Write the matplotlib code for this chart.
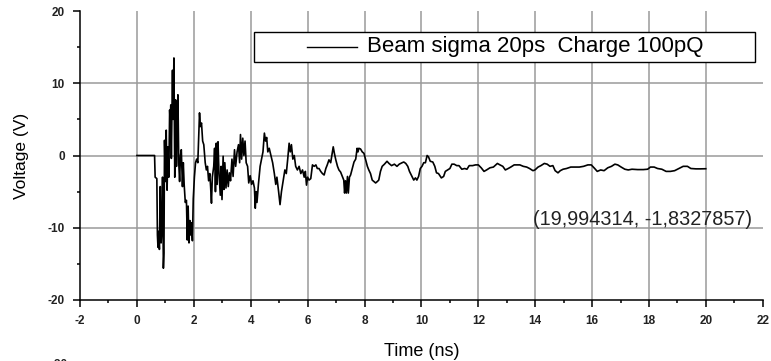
import matplotlib
matplotlib.use("Agg")
import matplotlib.pyplot as plt
from matplotlib.patches import Rectangle
from matplotlib.ticker import MultipleLocator

plt.rcParams['font.family'] = ['Liberation Sans', 'DejaVu Sans']
plt.rcParams['axes.unicode_minus'] = False

# waveform (time in ns, voltage in V)
time_ns = [
    0.00, 0.62, 0.64, 0.70, 0.72, 0.74, 0.76, 0.79, 0.82, 0.85, 0.88, 0.90,
    0.93, 0.95, 0.97, 1.00, 1.03, 1.06, 1.09, 1.12, 1.15, 1.17, 1.19, 1.21,
    1.25, 1.27, 1.30, 1.33, 1.36, 1.39, 1.41, 1.44, 1.47, 1.50, 1.53, 1.56,
    1.60, 1.63, 1.66, 1.70, 1.74, 1.77, 1.80, 1.83, 1.86, 1.89, 1.92, 1.95,
    1.98, 2.02, 2.06, 2.10, 2.14, 2.17, 2.20, 2.23, 2.27, 2.31, 2.35, 2.40,
    2.44, 2.48, 2.52, 2.56, 2.59, 2.62, 2.65, 2.70,
    2.73, 2.76, 2.79, 2.82, 2.85, 2.88, 2.93, 2.96, 2.99, 3.03, 3.06, 3.09,
    3.13, 3.17, 3.21, 3.25, 3.29, 3.34, 3.38, 3.43, 3.47, 3.52, 3.57, 3.61,
    3.64, 3.68, 3.72, 3.76, 3.80, 3.84, 3.89, 3.93, 3.98, 4.03, 4.08, 4.13,
    4.16, 4.19, 4.22, 4.27, 4.33, 4.38, 4.43, 4.48, 4.52, 4.56, 4.60, 4.65,
    4.71, 4.77, 4.83, 4.88, 4.92, 4.98, 5.03, 5.08, 5.14, 5.20, 5.25, 5.30,
    5.35, 5.39, 5.43, 5.48, 5.53, 5.58, 5.64,
    5.70, 5.76, 5.82, 5.88, 5.92, 5.96, 6.00, 6.05, 6.11, 6.17, 6.23, 6.29,
    6.34, 6.40, 6.46, 6.52, 6.58, 6.64, 6.69, 6.75, 6.81, 6.85, 6.90, 6.94,
    6.99, 7.05, 7.10, 7.16, 7.22, 7.27, 7.30, 7.33, 7.36, 7.40, 7.43, 7.47,
    7.51, 7.57, 7.63, 7.69, 7.74, 7.77, 7.80, 7.86, 7.92, 7.98, 8.04, 8.10,
    8.15, 8.21, 8.27, 8.33, 8.39, 8.45, 8.50, 8.56, 8.62, 8.70, 8.79, 8.86,
    8.95, 9.05, 9.14, 9.22, 9.32,
    9.38, 9.45, 9.52, 9.58, 9.67, 9.73, 9.79, 9.84, 9.90, 9.96, 10.02, 10.08,
    10.14, 10.20, 10.25, 10.31, 10.40, 10.47, 10.53,
    10.60, 10.70, 10.78, 10.84, 10.92, 11.00, 11.07, 11.15, 11.24, 11.32,
    11.42, 11.52, 11.60, 11.68, 11.80, 11.90, 12.00, 12.10, 12.20, 12.29,
    12.41, 12.53, 12.67, 12.76, 12.86, 12.95, 13.05, 13.14, 13.26, 13.35,
    13.46, 13.58, 13.70, 13.80, 13.92, 13.99, 14.10, 14.20, 14.32, 14.42,
    14.52, 14.62,
    14.70, 14.80, 14.88, 14.98, 15.10, 15.25, 15.40, 15.55, 15.70, 15.85,
    15.97, 16.09, 16.18, 16.30, 16.42, 16.55, 16.68, 16.80, 16.90, 17.02,
    17.15, 17.27, 17.40, 17.60, 17.80, 17.95, 18.05, 18.18, 18.30, 18.45,
    18.60, 18.75, 18.90, 19.05, 19.20, 19.35, 19.47, 19.65, 19.80, 19.994,
]
voltage_v = [
    0.0, 0.0, -3.0, -3.2, -11.0, -12.7, -10.5, -13.0, -4.3, -12.1, -9.5, -3.0,
    -15.6, -13.5, 2.1, -3.6, 3.5, -4.8, 1.2, -3.0, 6.3, 4.5, 7.0, -0.4,
    11.8, 5.0, 13.5, -3.0, 7.7, -1.5, 3.0, 8.4, -1.0, -3.6, 0.0, 0.8,
    -4.3, -1.0, -4.0, -6.5, -6.2, -11.7, -7.0, -12.1, -9.0, -11.0, -9.3, -11.8,
    -6.0, -3.0, -1.0, -0.5, -1.0, 2.5, 5.9, 4.0, 4.5, 2.0, 1.5, -1.0,
    -2.0, -1.5, -3.5, -2.5, -4.3, -6.6, -3.0, -1.5,
    1.0, -5.0, 1.7, -4.0, 1.9, -2.0, -5.5, -1.5, -6.1, -0.1, -4.7, -1.0,
    -4.5, -2.0, -4.3, -2.4, -3.5, -0.5, -2.9, 0.8, -1.5, 0.5, 1.5, -1.0,
    2.9, -0.5, 2.4, 0.0, 2.0, -1.0, -1.5, -3.8, -2.8, -4.0, -3.5, -4.5,
    -7.3, -5.0, -6.5, -4.0, -1.5, -0.5, 0.5, 3.1, 2.0, 2.5, 0.5, 1.0,
    0.0, -1.0, -2.5, -4.0, -3.0, -5.0, -6.8, -5.0, -3.5, -2.0, -2.5, -0.5,
    1.7, 0.5, 1.5, -0.5, 0.0, -1.5, -2.0,
    -1.5, -2.5, -2.0, -3.0, -2.2, -4.1, -3.0, -3.4, -3.2, -1.3, -1.5, -1.3,
    -1.8, -1.8, -2.2, -2.5, -2.7, -1.8, -1.3, -0.6, -1.0, 0.0, 1.2, 0.3,
    -0.6, -1.5, -2.0, -2.3, -2.9, -3.4, -5.2, -3.5, -5.2, -2.9, -5.2, -3.0,
    -2.7, -1.8, -0.9, -0.5, 1.0, 0.5, 1.0, 0.9, 0.5, 0.3, -0.6, -1.5,
    -2.0, -2.5, -3.4, -3.6, -3.8, -3.6, -3.4, -2.2, -1.5, -1.2, -0.8, -1.1,
    -1.4, -1.2, -1.5, -1.2, -1.0,
    -0.9, -1.1, -1.5, -2.2, -2.9, -3.4, -3.1, -3.4, -2.9, -1.8, -1.5, -1.0,
    -1.0, 0.0, -0.2, -0.8, -0.9, -1.5, -2.4,
    -2.5, -3.1, -2.9, -2.2, -2.0, -1.8, -1.2, -1.2, -1.4, -1.4,
    -1.9, -1.8, -1.9, -1.4, -1.4, -1.3, -1.3, -1.7, -2.2, -2.0,
    -1.7, -1.6, -1.1, -1.3, -1.5, -2.0, -1.8, -1.6, -1.3, -1.3,
    -1.3, -1.5, -1.6, -1.8, -2.1, -2.0, -1.6, -1.4, -1.1, -1.2,
    -1.5, -1.4,
    -2.1, -2.4, -2.1, -1.9, -1.8, -1.6, -1.6, -1.6, -1.5, -1.3,
    -1.3, -1.8, -2.2, -2.0, -2.1, -1.7, -1.5, -1.2, -1.3, -1.6,
    -1.9, -2.0, -1.9, -1.95, -1.95, -1.9, -1.6, -1.6, -1.8, -1.9,
    -2.2, -2.2, -2.1, -1.8, -1.5, -1.5, -1.8, -1.85, -1.85, -1.8327857,
]

series_label = "Beam sigma 20ps  Charge 100pQ"
cursor_text = "(19,994314, -1,8327857)"

fig = plt.figure(figsize=(7.71, 3.61), dpi=100)
ax = fig.add_axes([0.1038, 0.169, 0.8856, 0.8005])

ax.plot(time_ns, voltage_v, color="black", lw=1.2, zorder=3)

ax.set_xlim(-2, 22)
ax.set_ylim(-20, 20)
ax.xaxis.set_major_locator(MultipleLocator(2))
ax.xaxis.set_minor_locator(MultipleLocator(1))
ax.yaxis.set_major_locator(MultipleLocator(10))
ax.yaxis.set_minor_locator(MultipleLocator(5))

for s in ["top", "right"]:
    ax.spines[s].set_visible(False)
for s in ["left", "bottom"]:
    ax.spines[s].set_linewidth(1.1)

ax.tick_params(which="major", direction="out", length=5, width=1.1,
               labelsize=8.5, pad=6)
ax.tick_params(which="minor", direction="out", length=2.5, width=1.1)
for lab in ax.get_xticklabels() + ax.get_yticklabels():
    lab.set_fontweight("bold")
    lab.set_color("#222222")

ax.grid(True, which="major", color="#9a9a9a", lw=1.1, zorder=1)
fig.canvas.draw()
for gl, v in zip(ax.get_xgridlines(), ax.get_xticks()):
    if v <= -2 or v >= 22:
        gl.set_visible(False)
for gl, v in zip(ax.get_ygridlines(), ax.get_yticks()):
    if v <= -20 or v >= 20:
        gl.set_visible(False)

ax.set_xlabel("Time (ns)", fontsize=13)
ax.set_ylabel("Voltage (V)", fontsize=12.5)
ax.xaxis.set_label_coords(0.5, -0.150)
ax.yaxis.set_label_coords(-0.0744, 0.5)

# legend box
ax.add_patch(Rectangle((0.255, 0.8246), 0.734, 0.1034, transform=ax.transAxes,
                       facecolor="white", edgecolor="black", lw=1.0, zorder=5))
ax.plot([0.3325, 0.4054], [0.877, 0.877], transform=ax.transAxes,
        color="black", lw=1.0, zorder=6)
ax.text(0.42, 0.877, series_label, transform=ax.transAxes, fontsize=16,
        va="center", ha="left", zorder=6)

ax.text(13.93, -8.8, cursor_text, fontsize=14.3, va="center", ha="left",
        color="#222222", zorder=4)

fig.text(0.066, 0.006, "-30", fontsize=8.5, fontweight="bold", color="#222222",
         va="top")

fig.savefig("out.png", dpi=100)
